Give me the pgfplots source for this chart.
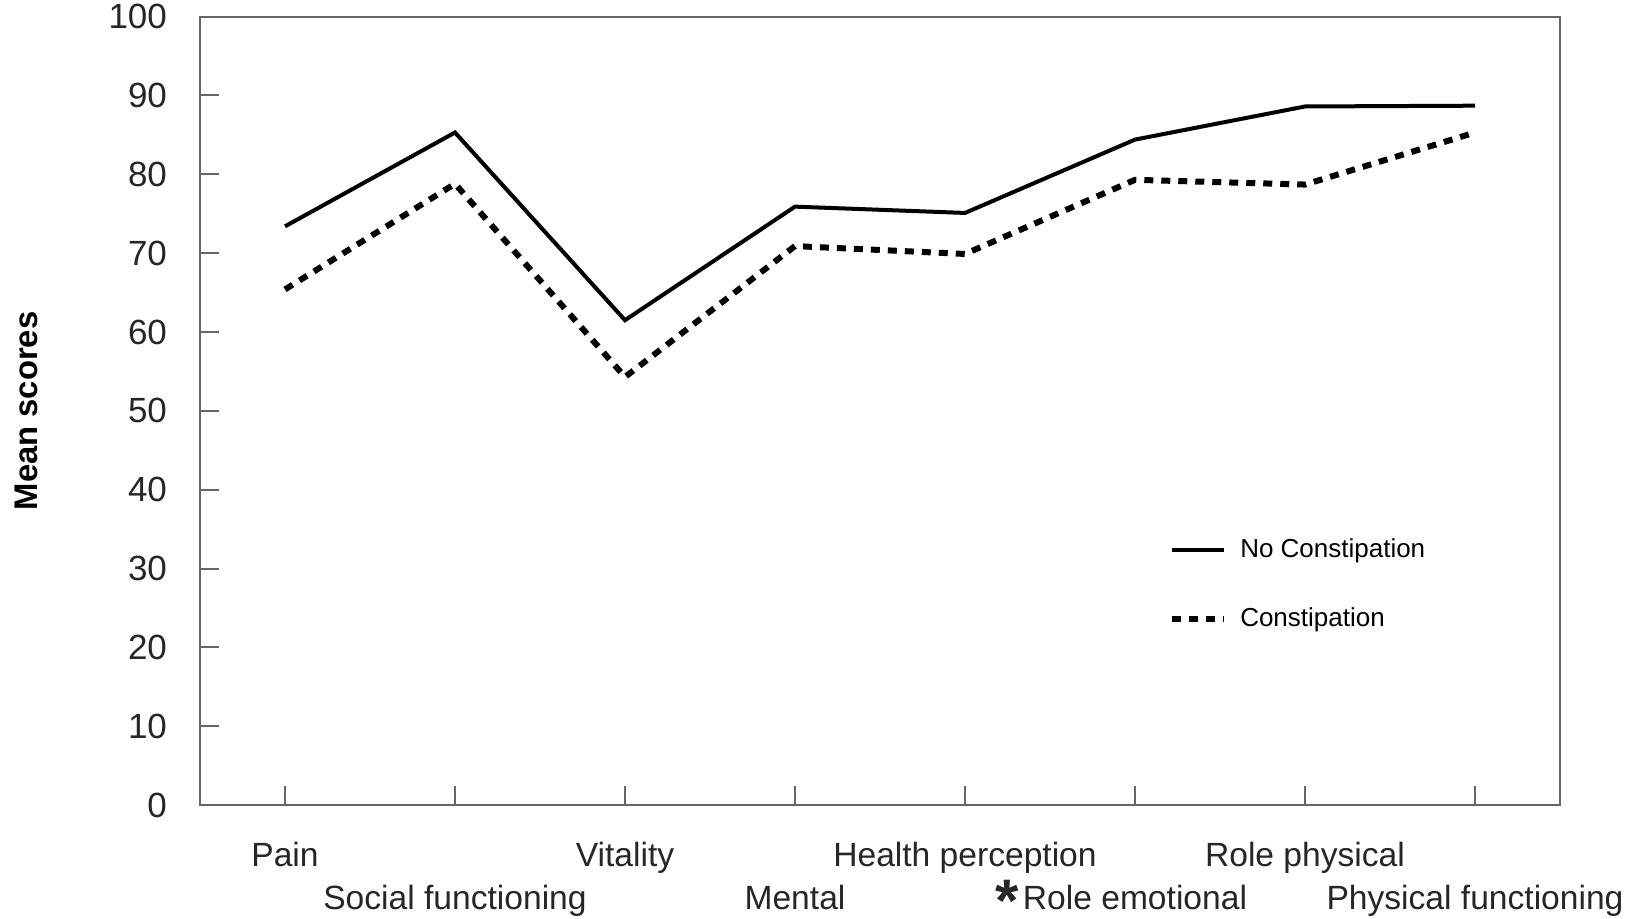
\documentclass[border=0pt]{standalone}
\usepackage{fontspec}
\setmainfont{Liberation Sans}
\usepackage{pgfplots}
\usepackage{pgfplotstable}
\pgfplotsset{compat=1.18}

\pgfplotstableread{
x nocon con
0 73.4 65.4
1 85.3 78.8
2 61.5 54.3
3 75.9 70.9
4 75.1 69.9
5 84.4 79.3
6 88.6 78.7
7 88.7 85.3
}\scores

\newcommand{\sigstar}{\raisebox{-6pt}[10pt][0pt]{\fontsize{30}{30}\selectfont\bfseries *}\kern2pt}

\begin{document}
\begin{tikzpicture}
\useasboundingbox (-100pt,-56.5pt) rectangle (719pt,402.6pt);
\begin{axis}[
  scale only axis, width=680pt, height=394.3pt,
  xmin=-0.5, xmax=7.5, ymin=0, ymax=100,
  xtick={0,2,4,6},
  xticklabels={Pain, Vitality, Health perception, Role physical},
  extra x ticks={1,3,5,7},
  extra x tick labels={Social functioning, Mental, {\sigstar Role emotional\hphantom{\sigstar}}, Physical functioning},
  extra x tick style={xticklabel style={yshift=-21.5pt}},
  ytick={0,10,...,100},
  tick align=inside, xtick pos=bottom, ytick pos=left,
  major tick length=9.5pt,
  every tick/.style={color=black!60, line width=1pt},
  axis line style={color=black!60, line width=1pt},
  xticklabel style={font=\fontsize{16.8}{19}\selectfont, text=black!85, anchor=base, yshift=-30.5pt},
  yticklabel style={font=\fontsize{17.5}{20}\selectfont, text=black!85, xshift=-13pt},
  /pgf/number format/assume math mode=true,
  ylabel={Mean scores},
  ylabel style={font=\bfseries\fontsize{16.4}{19}\selectfont, at={(axis description cs:-0.128,0.5)}, anchor=center},
  legend cell align=left,
  legend image code/.code={\draw[#1] (0pt,0pt) -- (26pt,0pt);},
  legend style={draw=none, fill=none, font=\fontsize{13}{15}\selectfont,
    at={(axis description cs:0.7124,0.338)}, anchor=north west,
    inner sep=0pt, row sep=23.5pt, column sep=6.5pt,
    nodes={inner sep=0pt}},
]
\addplot[black, line width=2pt] table[x=x, y=nocon] {\scores};
\addlegendentry{No Constipation}
\addplot[black, line width=3pt, dash pattern=on 4.5pt off 4pt] table[x=x, y=con] {\scores};
\addlegendentry{Constipation}
\end{axis}
\end{tikzpicture}
\end{document}
